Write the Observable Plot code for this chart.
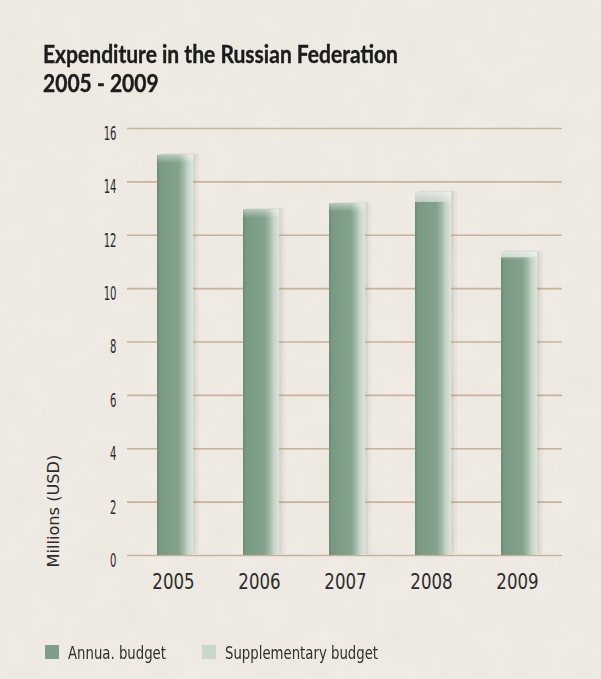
<!DOCTYPE html>
<html>
<head>
<meta charset="utf-8">
<script src="https://cdn.jsdelivr.net/npm/d3@7"></script>
<script src="https://cdn.jsdelivr.net/npm/@observablehq/plot@0.6"></script>
<style>
  html, body { margin: 0; padding: 0; }
  body {
    width: 601px; height: 679px; overflow: hidden; position: relative;
    background-color: #f1ede6;
    background-image: url("data:image/svg+xml;utf8,<svg xmlns='http://www.w3.org/2000/svg' width='601' height='679'><filter id='n'><feTurbulence type='fractalNoise' baseFrequency='0.035' numOctaves='4' seed='3'/><feColorMatrix values='0 0 0 0 0.55  0 0 0 0 0.48  0 0 0 0 0.40  0 0 0 0.35 0'/></filter><rect width='100%' height='100%' filter='url(%23n)' opacity='0.35'/></svg>");
    font-family: 'Liberation Sans Narrow', 'DejaVu Sans Condensed', sans-serif;
    color: #2b2b2b;
  }
  #title {
    position: absolute; left: 43px; top: 39px;
    font-family: Lato, 'Open Sans', sans-serif; font-weight: 700;
    font-size: 25px; line-height: 29px; color: #1c1c1c;
    transform-origin: left top; white-space: nowrap;
    -webkit-text-stroke: 0.4px #1c1c1c;
  }
  #chart { position: absolute; left: 0; top: 100px; }
  .item { position: absolute; top: 642px; height: 20px; display: flex; align-items: center; font-size: 18px; color: #2e2e2e; white-space: nowrap; }
  .sw { width: 14px; height: 14px; display: inline-block; margin-right: 9px; flex: none; }
  .lab { display: inline-block; transform: scaleX(0.82); transform-origin: left center; }
</style>
</head>
<body>
<div id="title"><div id="t1"></div><div id="t2"></div></div>
<div id="chart"></div>
<script>
// ---- data ----
const titleLines = ["Expenditure in the Russian Federation", "2005 - 2009"];
const years = ["2005", "2006", "2007", "2008", "2009"];
const annual = [15.0, 12.95, 13.18, 13.24, 11.16];
const supplementary = [0, 0, 0, 0.37, 0.21];
const seriesNames = ["Annua. budget", "Supplementary budget"];
const yTicks = [0, 2, 4, 6, 8, 10, 12, 14, 16];
const yLabel = "Millions (USD)";
const legendColors = ["#7f9e87", "#c9d6cc"];

// ---- title ----
document.getElementById("t1").textContent = titleLines[0];
document.getElementById("t2").textContent = titleLines[1];
const titleEl = document.getElementById("title");
const tw = document.getElementById("t1").getBoundingClientRect().width;
titleEl.style.transform = `scaleX(${355 / tw})`;

// ---- table ----
const data = years.flatMap((y, i) => [
  {year: y, type: seriesNames[0], value: annual[i]},
  {year: y, type: seriesNames[1], value: supplementary[i]}
]);
const totals = years.map((y, i) => ({year: y, total: annual[i] + supplementary[i]}));

const narrow = "'Liberation Sans Narrow', 'DejaVu Sans Condensed', sans-serif";

const svg = Plot.plot({
  width: 601,
  height: 540,
  marginLeft: 127,
  marginRight: 39,
  marginTop: 28,
  marginBottom: 85,
  style: {background: "transparent", overflow: "visible"},
  x: {domain: years, range: [131.25, 563.75], paddingInner: 0.58, paddingOuter: 0.29, label: null},
  y: {domain: [0, 16], label: null},
  color: {domain: seriesNames, range: ["url(#gAnnual)", "url(#gSupp)"]},
  marks: [
    Plot.gridY(yTicks, {stroke: "#c8b29a", strokeOpacity: 1, strokeWidth: 1.6}),
    // soft shadow
    Plot.barY(totals, {x: "year", y: "total", fill: "#8a8a80", fillOpacity: 0.13, dx: 3, dy: -1}),
    Plot.barY(totals, {x: "year", y: "total", fill: "#8a8a80", fillOpacity: 0.08, dx: 6, dy: -1}),
    Plot.barY(data, Plot.stackY({x: "year", y: "value", fill: "type", order: seriesNames})),
    // top highlight cap
    Plot.barY(totals, {x: "year", y1: d => d.total - 0.32, y2: "total", fill: "url(#gCap)"}),
    Plot.axisY(yTicks, {tickSize: 0, tickPadding: 11, dy: 5, fontSize: 20, fontFamily: narrow, fill: "#2b2b2b"}),
    Plot.axisX({tickSize: 0, tickPadding: 18, fontSize: 22, fontFamily: narrow, fill: "#2b2b2b", dx: -2}),
    Plot.text([yLabel], {frameAnchor: "bottom-left", rotate: -90, textAnchor: "start", lineAnchor: "middle",
      dx: -73, dy: 12, fontSize: 18, fontFamily: narrow, fill: "#2b2b2b"})
  ]
});

svg.insertAdjacentHTML("afterbegin", `
<defs>
  <linearGradient id="gAnnual" x1="0" x2="1" y1="0" y2="0">
    <stop offset="0" stop-color="#6a8b74"/>
    <stop offset="0.08" stop-color="#799a82"/>
    <stop offset="0.6" stop-color="#84a28c"/>
    <stop offset="0.72" stop-color="#9cb5a2"/>
    <stop offset="0.86" stop-color="#c6d4c9"/>
    <stop offset="1" stop-color="#dde4dc"/>
  </linearGradient>
  <linearGradient id="gSupp" x1="0" x2="1" y1="0" y2="0">
    <stop offset="0" stop-color="#c2d0c5"/>
    <stop offset="0.7" stop-color="#ccd9cf"/>
    <stop offset="1" stop-color="#e3e8e2"/>
  </linearGradient>
  <linearGradient id="gCap" x1="0" x2="0" y1="0" y2="1">
    <stop offset="0" stop-color="#ffffff" stop-opacity="0.45"/>
    <stop offset="1" stop-color="#ffffff" stop-opacity="0"/>
  </linearGradient>
</defs>`);

// condense tick and axis label glyphs horizontally (the original uses a narrow face)
function condense(selector, sx, sy) {
  svg.querySelectorAll(selector).forEach(t => {
    const tr = t.getAttribute("transform") || "";
    t.setAttribute("transform", `${tr} scale(${sx},${sy})`);
  });
}
condense('g[aria-label="y-axis tick label"] text', 0.56, 1);
condense('g[aria-label="x-axis tick label"] text', 0.84, 1);
condense('g[aria-label="text"] text', 1, 0.85);

document.getElementById("chart").appendChild(svg);

// ---- legend ----
const legendX = [45, 202];
seriesNames.forEach((name, i) => {
  const item = document.createElement("div");
  item.className = "item";
  item.style.left = legendX[i] + "px";
  const sw = document.createElement("span");
  sw.className = "sw";
  sw.style.background = legendColors[i];
  const label = document.createElement("span");
  label.className = "lab";
  label.textContent = name;
  item.appendChild(sw);
  item.appendChild(label);
  document.body.appendChild(item);
});
</script>
</body>
</html>
